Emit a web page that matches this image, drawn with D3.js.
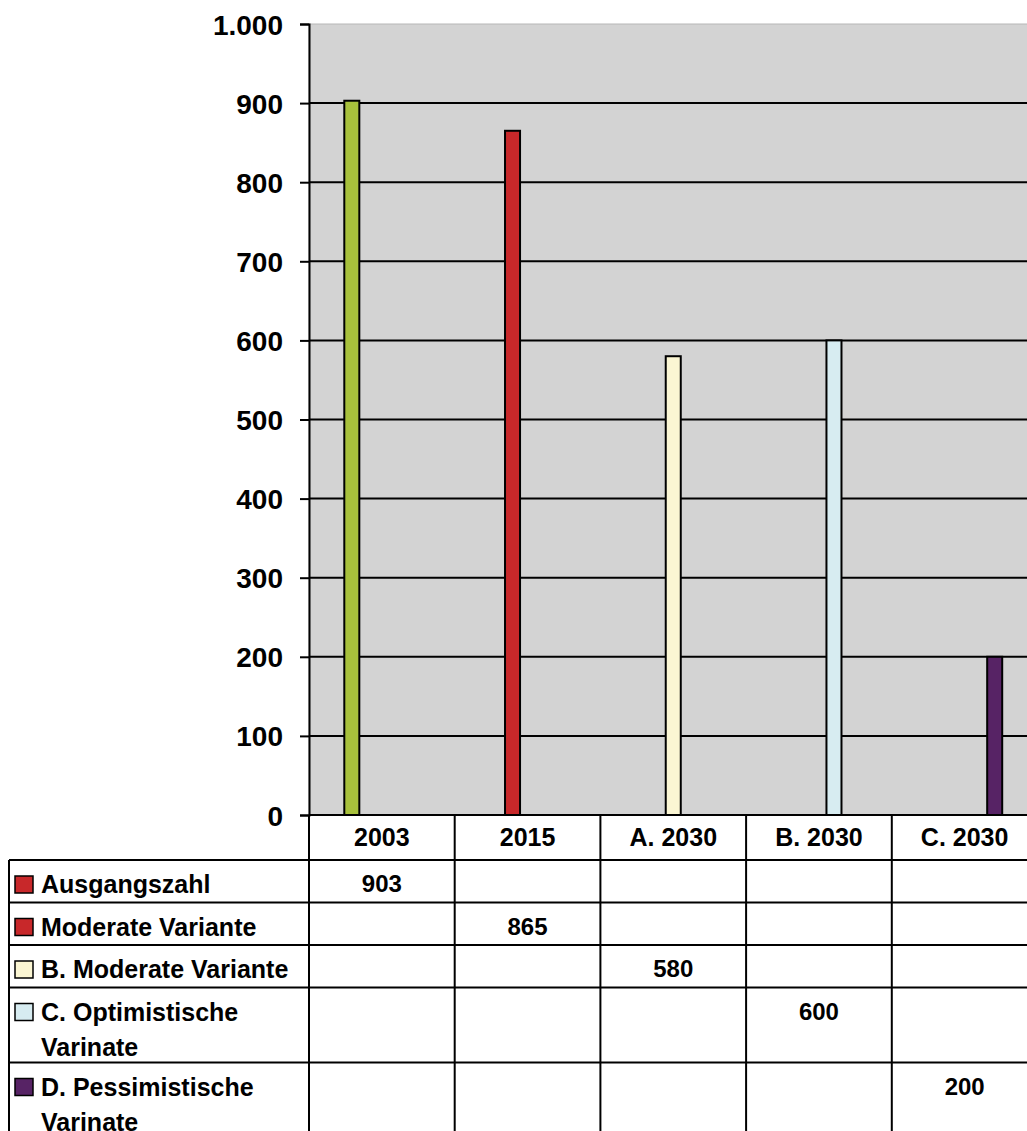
<!DOCTYPE html>
<html>
<head>
<meta charset="utf-8">
<script src="https://cdn.jsdelivr.net/npm/d3@7"></script>
<style>
  body { margin: 0; background: #fff; }
  svg { display: block; font-family: "Liberation Sans", Arial, sans-serif; font-weight: bold; }
</style>
</head>
<body>
<script>
// categories on the x axis and one series per category
var categories = ["2003", "2015", "A. 2030", "B. 2030", "C. 2030"];
var seriesNames = ["Ausgangszahl", "Moderate Variante", "B. Moderate Variante", "C. Optimistische Varinate", "D. Pessimistische Varinate"];
var seriesLabelLines = [["Ausgangszahl"], ["Moderate Variante"], ["B. Moderate Variante"], ["C. Optimistische", "Varinate"], ["D. Pessimistische", "Varinate"]];
// values[series][category]
var values = [
    [903, null, null, null, null],
    [null, 865, null, null, null],
    [null, null, 580, null, null],
    [null, null, null, 600, null],
    [null, null, null, null, 200]
];
var barColors = ["#a8c13c", "#c8282a", "#fbf6d3", "#d7ecf1", "#572365"];
var keyColors = ["#c8282a", "#c8282a", "#fbf6d3", "#d7ecf1", "#572365"];
var yTicks = [0, 100, 200, 300, 400, 500, 600, 700, 800, 900, 1000];

var width = 1027, height = 1131;
var plotLeft = 309, plotTop = 24, plotBottom = 815, colW = 145.7;
var plotRight = plotLeft + colW * categories.length;

var de = d3.formatLocale({decimal: ",", thousands: ".", grouping: [3], currency: ["", " €"]});
var fmt = de.format(",d");

var svg = d3.select("body").append("svg")
    .attr("width", width)
    .attr("height", height);

var x0 = d3.scaleBand().domain(categories).range([plotLeft, plotRight]);
var x1 = d3.scaleBand().domain(seriesNames).range([0, x0.bandwidth()]).paddingOuter(2.35);
var y = d3.scaleLinear().domain([0, 1000]).range([plotBottom, plotTop]);

// plot background
svg.append("rect")
    .attr("x", plotLeft).attr("y", plotTop)
    .attr("width", plotRight - plotLeft).attr("height", plotBottom - plotTop)
    .attr("fill", "#d3d3d3")
    .attr("stroke", "#b8b8b8").attr("stroke-width", 1);

// gridlines
svg.append("g").selectAll("line")
    .data(yTicks.filter(function (d) { return d > 0 && d < 1000; }))
    .enter().append("line")
    .attr("x1", plotLeft).attr("x2", plotRight)
    .attr("y1", function (d) { return y(d); })
    .attr("y2", function (d) { return y(d); })
    .attr("stroke", "#000").attr("stroke-width", 2);

// bars
var groups = svg.append("g").selectAll("g")
    .data(seriesNames)
    .enter().append("g");

groups.selectAll("rect")
    .data(function (s, i) {
        return categories.map(function (c, j) { return {s: s, i: i, c: c, v: values[i][j]}; })
            .filter(function (d) { return d.v != null; });
    })
    .enter().append("rect")
    .attr("x", function (d) { return x0(d.c) + x1(d.s); })
    .attr("width", x1.bandwidth())
    .attr("y", function (d) { return y(d.v); })
    .attr("height", function (d) { return y(0) - y(d.v); })
    .attr("fill", function (d) { return barColors[d.i]; })
    .attr("stroke", "#000").attr("stroke-width", 2);

// y axis
var yAxis = d3.axisLeft(y).tickValues(yTicks).tickFormat(fmt).tickSize(9).tickPadding(17);
var ya = svg.append("g").attr("transform", "translate(" + plotLeft + ",0)").call(yAxis);
ya.select(".domain").attr("stroke", "#000").attr("stroke-width", 2);
ya.selectAll(".tick line").attr("stroke", "#000").attr("stroke-width", 2);
ya.selectAll(".tick text")
    .attr("font-size", "28px").attr("font-family", "Liberation Sans, Arial, sans-serif")
    .attr("font-weight", "bold").attr("fill", "#000").attr("dy", "0.36em");

// data table under the chart
var headerBottom = 860;
var rowHeights = seriesLabelLines.map(function (l) { return l.length > 1 ? 75 : 42.5; });
var rowTops = [];
var acc = headerBottom;
rowHeights.forEach(function (h) { rowTops.push(acc); acc += h; });
var tableBottom = acc;

var table = svg.append("g");

// x axis line
table.append("line")
    .attr("x1", plotLeft).attr("x2", plotRight).attr("y1", plotBottom).attr("y2", plotBottom)
    .attr("stroke", "#000").attr("stroke-width", 2);

// horizontal row lines
table.selectAll("line.row")
    .data(rowTops)
    .enter().append("line").attr("class", "row")
    .attr("x1", 9).attr("x2", plotRight)
    .attr("y1", function (d) { return d; }).attr("y2", function (d) { return d; })
    .attr("stroke", "#000").attr("stroke-width", 2);

// vertical column lines
table.selectAll("line.col")
    .data(categories.concat(["end"]))
    .enter().append("line").attr("class", "col")
    .attr("x1", function (d, i) { return plotLeft + i * x0.step(); })
    .attr("x2", function (d, i) { return plotLeft + i * x0.step(); })
    .attr("y1", plotBottom).attr("y2", tableBottom)
    .attr("stroke", "#000").attr("stroke-width", 2);

table.append("line")
    .attr("x1", 9).attr("x2", 9).attr("y1", headerBottom).attr("y2", tableBottom)
    .attr("stroke", "#000").attr("stroke-width", 2);

// header labels
table.selectAll("text.head")
    .data(categories)
    .enter().append("text").attr("class", "head")
    .attr("x", function (d) { return x0(d) + x0.bandwidth() / 2; })
    .attr("y", 846)
    .attr("text-anchor", "middle")
    .attr("font-size", "25px")
    .text(function (d) { return d; });

// legend keys and labels
seriesNames.forEach(function (s, i) {
    var base = rowTops[i] + 33;
    table.append("rect")
        .attr("x", 15).attr("y", base - 17)
        .attr("width", 18).attr("height", 17)
        .attr("fill", keyColors[i])
        .attr("stroke", "#000").attr("stroke-width", 1.5);
    var t = table.append("text")
        .attr("x", 41).attr("y", base)
        .attr("font-size", "25px");
    seriesLabelLines[i].forEach(function (line, k) {
        t.append("tspan")
            .attr("x", 41)
            .attr("dy", k === 0 ? 0 : 35)
            .text(line);
    });

    // value cells
    categories.forEach(function (c, j) {
        if (values[i][j] == null) return;
        table.append("text")
            .attr("x", x0(c) + x0.bandwidth() / 2)
            .attr("y", base - 1)
            .attr("text-anchor", "middle")
            .attr("font-size", "24px")
            .text(fmt(values[i][j]));
    });
});
</script>
</body>
</html>
